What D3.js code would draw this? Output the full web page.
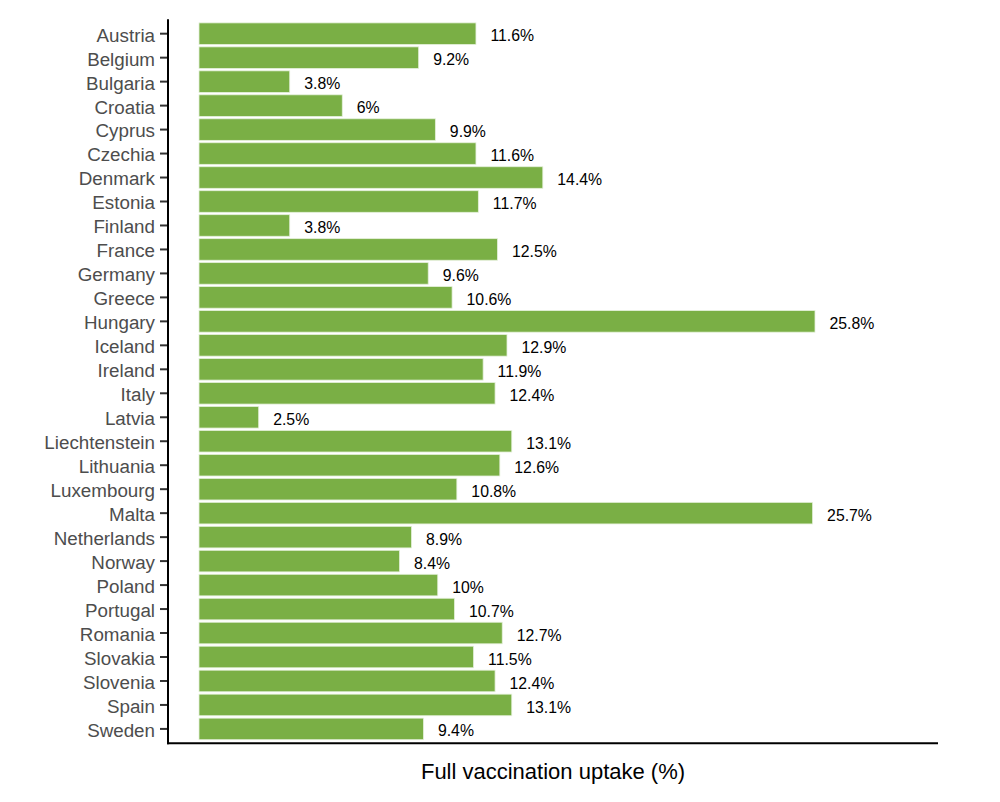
<!DOCTYPE html>
<html><head><meta charset="utf-8">
<script src="https://cdn.jsdelivr.net/npm/d3@7"></script>
<style>body{margin:0;background:#fff;} text{font-family:Arial,"Liberation Sans",sans-serif;}</style>
</head><body>
<svg id="chart" width="1000" height="802"></svg>
<script>
const countries = ["Austria","Belgium","Bulgaria","Croatia","Cyprus","Czechia","Denmark","Estonia","Finland","France","Germany","Greece","Hungary","Iceland","Ireland","Italy","Latvia","Liechtenstein","Lithuania","Luxembourg","Malta","Netherlands","Norway","Poland","Portugal","Romania","Slovakia","Slovenia","Spain","Sweden"];
const uptake = [11.6,9.2,3.8,6,9.9,11.6,14.4,11.7,3.8,12.5,9.6,10.6,25.8,12.9,11.9,12.4,2.5,13.1,12.6,10.8,25.7,8.9,8.4,10,10.7,12.7,11.5,12.4,13.1,9.4];
const axisTitle = "Full vaccination uptake (%)";

const svg = d3.select("#chart");
const panel = {left:168, right:938, top:19.3, bottom:743.3};
const x = d3.scaleLinear().domain([0, 25.8]).range([199, 815]);
const y = d3.scaleBand().domain(countries).range([panel.top, panel.bottom]).paddingInner(0.1).paddingOuter(0.15);

const data = countries.map((c,i)=>({c, v: uptake[i]}));

svg.append("g").selectAll("rect").data(data).join("rect")
  .attr("x", x(0)).attr("y", d=>y(d.c))
  .attr("width", d=>x(d.v)-x(0)).attr("height", y.bandwidth())
  .attr("fill", "#7aaf45").attr("stroke", "#e4f0da").attr("stroke-width", 0.8);

svg.append("g").selectAll("text").data(data).join("text")
  .attr("x", d=>x(d.v)+14.5).attr("y", d=>y(d.c)+y.bandwidth()/2)
  .attr("dy","0.48em").attr("font-size", 15.8).attr("fill","#000")
  .text(d=>`${d.v}%`);

// y axis
const yAxis = d3.axisLeft(y).tickSize(8).tickPadding(5);
const gy = svg.append("g").attr("transform", `translate(${panel.left},0)`).call(yAxis);
gy.select(".domain").remove();
gy.selectAll(".tick line").attr("stroke","#333").attr("stroke-width",2);
gy.selectAll(".tick text").attr("font-size",18.8).attr("fill","#4d4d4d").attr("dy","0.42em")
  .attr("font-family","Arial, 'Liberation Sans', sans-serif");

// axis lines
svg.append("line").attr("x1",panel.left).attr("x2",panel.left).attr("y1",panel.top).attr("y2",panel.bottom+1)
  .attr("stroke","#000").attr("stroke-width",2);
svg.append("line").attr("x1",panel.left-1).attr("x2",panel.right).attr("y1",panel.bottom).attr("y2",panel.bottom)
  .attr("stroke","#000").attr("stroke-width",2);

svg.append("text").attr("x",(panel.left+panel.right)/2).attr("y",779)
  .attr("text-anchor","middle").attr("font-size",22).attr("fill","#000").text(axisTitle);
</script>
</body></html>
